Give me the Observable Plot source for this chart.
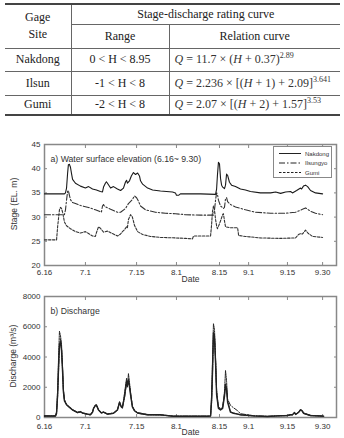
<!DOCTYPE html>
<html>
<head>
<meta charset="utf-8">
<script src="https://cdn.jsdelivr.net/npm/d3@7"></script>
<script src="https://cdn.jsdelivr.net/npm/@observablehq/plot@0.6"></script>
<style>
  html, body { margin: 0; padding: 0; background: #fff; }
  body { width: 344px; height: 438px; position: relative; overflow: hidden; }
  table.rc { position: absolute; left: 5px; top: 3px; width: 335px; border-collapse: collapse;
    font-family: "Liberation Serif", "DejaVu Serif", serif; font-size: 12px; color: #222;
    border-top: 2px solid #444; border-bottom: 2px solid #444; }
  table.rc td { padding: 0; text-align: center; vertical-align: middle; border: 1px solid #666; line-height: 17px; }
  table.rc tr td:first-child { border-left: none; }
  table.rc tr td:last-child { border-right: none; }
  table.rc td.eq { text-align: left; padding-left: 5px; color: #333; white-space: nowrap; }
  table.rc td.eq i { font-style: italic; }
  table.rc sup { font-size: 8px; vertical-align: 5px; line-height: 0; }
  .chart { position: absolute; left: 0; }
  .legend { position: absolute; left: 273px; top: 146px; width: 57px; height: 30px; border: 1px solid #888; background: #fff; }
  .ylab { position: absolute; font-family: "Liberation Sans", Arial, sans-serif; font-size: 8.5px; color: #333; white-space: nowrap; transform: translate(-50%, -50%) rotate(-90deg); }
</style>
</head>
<body>
<div id="table"></div>
<div id="chartA" class="chart" style="top:130px"></div>
<div id="chartB" class="chart" style="top:288px"></div>
<script>
// ---------- Table content ----------
const gageSites = ["Nakdong", "Ilsun", "Gumi"];
const ranges = ["0 < H < 8.95", "-1 < H < 8", "-2 < H < 8"];
const relationHtml = [
  "<i>Q</i> = 11.7 × (<i>H</i> + 0.37)<sup>2.89</sup>",
  "<i>Q</i> = 2.236 × [(<i>H</i> + 1) + 2.09]<sup>3.641</sup>",
  "<i>Q</i> = 2.07 × [(<i>H</i> + 2) + 1.57]<sup>3.53</sup>"
];

// ---------- Axis ticks ----------
const tickDays = [0, 15.6, 35.1, 50.3, 66.7, 77.8, 92.6, 106];
const tickLabels = ["6.16", "7.1", "7.15", "8.1", "8.15", "9.1", "9.15", "9.30"];
const stageTicks = [20, 25, 30, 35, 40, 45];
const dischargeTicks = [0, 2000, 4000, 6000, 8000];
const seriesNames = ["Nakdong", "Ilsungyo", "Gumi"];

// ---------- Stage series [day, elevation m] ----------
const nakdongStage = [[0,34.8],[7.6,34.8],[8.0,35.0],[8.4,36.0],[8.8,39.0],[9.1,40.8],[9.5,40.9],[9.9,40.3],[10.3,39.0],[10.7,37.8],[11.8,37.0],[13.7,36.4],[15.6,36.0],[16.8,36.3],[18.3,35.8],[19.8,35.6],[21.3,35.3],[22.1,35.2],[22.5,36.2],[23.2,37.0],[23.6,37.3],[24.0,37.0],[25.2,36.0],[26.3,36.3],[27.8,35.8],[29.0,35.5],[30.1,36.0],[30.9,37.3],[31.3,37.6],[31.6,37.0],[32.4,37.5],[33.1,38.5],[33.9,39.2],[34.7,38.8],[35.5,39.1],[36.2,38.5],[36.6,37.5],[37.4,36.8],[39.3,36.0],[41.2,35.6],[44.2,35.4],[48.8,35.2],[49.9,35.0],[50.3,34.5],[51.1,34.5],[51.8,34.8],[59.5,34.8],[65.2,34.7],[65.6,35.8],[65.9,38.5],[66.3,41.3],[66.7,41.0],[67.1,38.0],[67.5,36.6],[67.9,36.2],[68.6,35.9],[69.0,36.6],[69.4,38.9],[69.8,38.6],[70.5,37.2],[71.3,36.6],[72.8,36.3],[74.7,35.8],[76.6,35.6],[78.5,35.3],[82.3,35.0],[86.2,35.0],[88.1,35.2],[90.0,34.9],[91.9,35.2],[93.8,35.3],[94.5,35.0],[96.1,35.5],[97.6,36.0],[98.0,35.8],[98.7,36.4],[99.5,36.6],[100.3,36.3],[101.4,35.5],[103.3,35.0],[106.0,34.8]];
const ilsunStage = [[0,30.5],[7.6,30.5],[8.0,31.5],[8.4,33.5],[8.8,35.3],[9.1,35.5],[9.5,34.5],[9.9,33.6],[10.7,33.0],[11.8,32.8],[13.7,32.4],[16.8,32.0],[19.4,31.5],[21.3,31.1],[21.7,31.0],[22.1,32.3],[22.5,32.6],[22.9,32.2],[25.2,31.6],[27.8,31.0],[29.0,31.0],[30.9,31.8],[32.0,32.8],[33.5,33.6],[34.3,34.4],[35.1,34.0],[35.8,33.3],[36.6,32.3],[38.5,31.5],[42.3,31.0],[46.1,30.8],[49.9,30.7],[53.7,30.5],[59.5,30.4],[64.4,30.4],[64.8,31.5],[65.2,33.5],[65.6,35.0],[65.9,34.8],[66.3,33.5],[67.1,32.3],[68.2,31.8],[68.6,32.0],[69.0,33.8],[69.4,34.0],[69.8,33.2],[70.9,32.6],[72.8,32.1],[76.6,31.5],[80.4,31.0],[86.2,30.8],[91.9,30.8],[95.7,31.0],[98.3,31.6],[99.5,31.9],[100.6,31.5],[101.4,31.2],[103.3,30.8],[106.0,30.5]];
const gumiStage = [[0,25.3],[4.6,25.3],[5.0,28.0],[5.4,30.0],[5.7,31.5],[6.1,32.0],[6.5,31.8],[6.9,31.0],[7.6,29.0],[8.4,28.2],[9.9,27.6],[11.8,27.0],[13.7,26.7],[15.6,27.0],[16.8,26.6],[18.3,26.1],[19.4,26.0],[19.8,26.8],[20.6,28.0],[21.3,27.7],[22.5,26.9],[24.0,27.1],[25.9,26.6],[27.8,26.1],[29.0,26.5],[29.7,27.0],[30.5,27.4],[31.3,28.0],[31.6,27.8],[32.0,29.5],[32.8,30.5],[33.5,30.0],[34.3,28.3],[35.5,27.0],[37.4,26.4],[40.4,26.0],[44.2,25.8],[49.9,25.7],[53.7,25.6],[56.4,25.5],[56.8,26.1],[59.5,26.1],[63.3,26.1],[63.7,28.5],[64.0,31.0],[64.4,32.3],[64.8,31.5],[65.2,29.5],[65.6,28.2],[65.9,27.6],[66.7,28.6],[67.9,30.5],[68.2,30.7],[68.6,29.2],[69.0,28.0],[70.9,27.8],[73.6,27.8],[74.0,26.2],[76.6,26.0],[82.3,25.7],[90.0,25.6],[95.7,25.7],[96.8,26.4],[97.6,26.6],[98.3,26.5],[99.5,27.3],[100.6,26.6],[102.2,26.0],[106.0,25.8]];

// ---------- Discharge series (m3/s) ----------
const dischargeDays = [0,4.2,4.6,5.0,5.4,5.7,6.1,6.5,6.9,7.2,7.6,8.4,9.9,10.7,12.6,13.7,14.5,16.4,17.5,18.3,18.7,19.4,19.8,20.6,21.7,22.5,24.0,26.3,27.8,28.6,29.3,29.7,30.5,31.3,31.6,32.0,32.4,32.8,33.5,34.3,35.5,39.3,44.2,46.1,49.2,56.8,62.1,63.3,63.7,64.0,64.4,64.8,65.2,65.6,66.3,67.1,67.9,68.6,69.0,69.4,69.8,70.9,72.0,73.6,74.7,79.7,85.0,88.8,92.6,93.8,94.5,95.3,95.7,96.8,97.6,98.3,98.7,101.4,106.4];
const nakdongQ = [100,100,300,1500,3500,4800,5000,4400,3000,1700,1100,840,620,500,330,380,300,220,180,350,600,800,820,500,300,350,220,280,500,1000,700,650,1400,2400,2100,2500,2000,1500,700,450,300,180,180,140,80,80,80,100,1200,2800,5600,5200,3600,1500,600,500,600,1400,2200,1800,1000,350,280,220,180,110,70,110,130,180,180,330,200,330,500,420,280,130,90];
const ilsunQ   = [110,110,250,1400,3300,4600,5200,4500,3100,1800,1150,860,640,520,350,400,300,230,200,380,620,830,850,520,320,370,240,300,520,950,720,700,1300,2300,2200,2400,2100,1600,750,480,320,200,190,150,90,90,90,110,1000,2600,5400,5500,3800,1700,700,600,700,1500,2100,2000,1200,800,650,450,250,120,80,120,140,190,190,300,220,350,480,440,300,140,100];
const gumiQ    = [90,90,400,1800,4200,5700,5400,4800,3300,1900,1200,820,600,480,320,360,280,210,170,330,580,780,800,480,290,340,210,270,480,1050,680,620,1600,2600,2000,2900,2300,1700,720,430,280,170,160,130,80,80,80,100,1500,3500,6200,5800,4000,1800,650,520,650,1700,3100,2400,1100,380,300,230,170,100,70,100,120,170,170,350,200,320,560,400,270,120,80];

// ---------- Build table ----------
(function buildTable() {
  let html = '<table class="rc"><colgroup><col style="width:66px"><col style="width:98px"><col></colgroup>';
  html += '<tr style="height:20px"><td rowspan="2">Gage<br>Site</td><td colspan="2">Stage-discharge rating curve</td></tr>';
  html += '<tr style="height:24px"><td>Range</td><td>Relation curve</td></tr>';
  const heights = [23, 24, 20];
  gageSites.forEach((s, i) => {
    html += `<tr style="height:${heights[i]}px"><td>${s}</td><td>${ranges[i]}</td><td class="eq">${relationHtml[i]}</td></tr>`;
  });
  html += '</table>';
  document.getElementById("table").innerHTML = html;
})();

const toRows = (pairs, name) => pairs.map(([d, v]) => ({day: d, value: v, name}));
const stageRows = [
  ...toRows(nakdongStage, seriesNames[0]),
  ...toRows(ilsunStage, seriesNames[1]),
  ...toRows(gumiStage, seriesNames[2])
];
const qRows = name => (name === "Nakdong" ? nakdongQ : name === "Ilsungyo" ? ilsunQ : gumiQ)
  .map((v, i) => ({day: dischargeDays[i], value: v, name}));

const dashes = {Nakdong: null, Ilsungyo: "6,2,1.5,2", Gumi: "2.5,1.5"};
const fmtX = d => tickLabels[tickDays.indexOf(d)];
const font = {fontFamily: "'Liberation Sans', Arial, sans-serif", fontSize: "8px", color: "#333", background: "transparent", overflow: "visible"};

function frameAndAxes(yTicks, xPad, dateDy) {
  return [
    Plot.axisX({ticks: tickDays, tickFormat: fmtX, tickSize: -3, tickPadding: xPad, label: null, stroke: "#888"}),
    Plot.axisX({anchor: "top", ticks: tickDays, tickFormat: () => "", tickSize: -3, label: null, stroke: "#888"}),
    Plot.axisY({ticks: yTicks, tickFormat: d => String(d), tickSize: -3, tickPadding: 7, label: null, stroke: "#888"}),
    Plot.axisY({anchor: "right", ticks: yTicks, tickFormat: () => "", tickSize: -3, label: null, stroke: "#888"}),
    Plot.frame({stroke: "#888", strokeWidth: 1.5}),
    Plot.text(["Date"], {frameAnchor: "bottom", dy: dateDy, fontSize: 8.5, fill: "#333"})
  ];
}

function seriesLines(rows, width) {
  return seriesNames.map(n => Plot.line(rows.filter(r => r.name === n), {
    x: "day", y: "value", stroke: n === "Nakdong" ? "#1a1a1a" : "#333",
    strokeWidth: width, strokeDasharray: dashes[n]
  }));
}

const chartA = Plot.plot({
  width: 344, height: 158,
  marginLeft: 44, marginRight: 8, marginTop: 14, marginBottom: 23,
  x: {domain: [0, 111.3]},
  y: {domain: [20, 45]},
  style: font,
  marks: [
    ...frameAndAxes(stageTicks, 7, 16),
    ...seriesLines(stageRows, 1.1).reverse(),
    Plot.text(["a) Water surface elevation (6.16~ 9.30)"], {frameAnchor: "top-left", dx: 6, dy: 11, textAnchor: "start", fontSize: 8.7, fill: "#333"})
  ]
});
document.getElementById("chartA").appendChild(chartA);

const chartB = Plot.plot({
  width: 344, height: 150,
  marginLeft: 44, marginRight: 8, marginTop: 8, marginBottom: 21,
  x: {domain: [0, 111.3]},
  y: {domain: [0, 8000]},
  style: font,
  marks: [
    ...frameAndAxes(dischargeTicks, 9, 17),
    ...seriesNames.map(n => Plot.line(qRows(n), {
      x: "day", y: "value", stroke: "#222", strokeWidth: n === "Nakdong" ? 1.4 : 1,
      strokeDasharray: n === "Nakdong" ? null : n === "Ilsungyo" ? "5,1.5,1,1.5" : "1.5,1"
    })).reverse(),
    Plot.text(["b) Discharge"], {frameAnchor: "top-left", dx: 6, dy: 11, textAnchor: "start", fontSize: 8.7, fill: "#333"})
  ]
});
document.getElementById("chartB").appendChild(chartB);

// ---------- Y axis titles (rotated) ----------
function yTitle(text, x, y) {
  const d = document.createElement("div");
  d.className = "ylab";
  d.style.left = x + "px"; d.style.top = y + "px";
  d.textContent = text;
  document.body.appendChild(d);
}
yTitle("Stage (EL. m)", 14, 204);
yTitle("Discharge (m³/s)", 13, 356);

// ---------- Legend for chart a ----------
(function legend() {
  const div = document.createElement("div");
  div.className = "legend";
  const svg = d3.create("svg").attr("width", 57).attr("height", 30)
    .style("font-family", "'Liberation Sans', Arial, sans-serif").style("font-size", "6px");
  seriesNames.forEach((n, i) => {
    const y = 6.5 + i * 9.5;
    svg.append("line").attr("x1", 5).attr("x2", 27).attr("y1", y).attr("y2", y)
      .attr("stroke", "#222").attr("stroke-width", 1)
      .attr("stroke-dasharray", dashes[n]);
    svg.append("text").attr("x", 31).attr("y", y).attr("dy", "0.35em").attr("fill", "#333").text(n);
  });
  div.appendChild(svg.node());
  document.body.appendChild(div);
})();
</script>
</body>
</html>
